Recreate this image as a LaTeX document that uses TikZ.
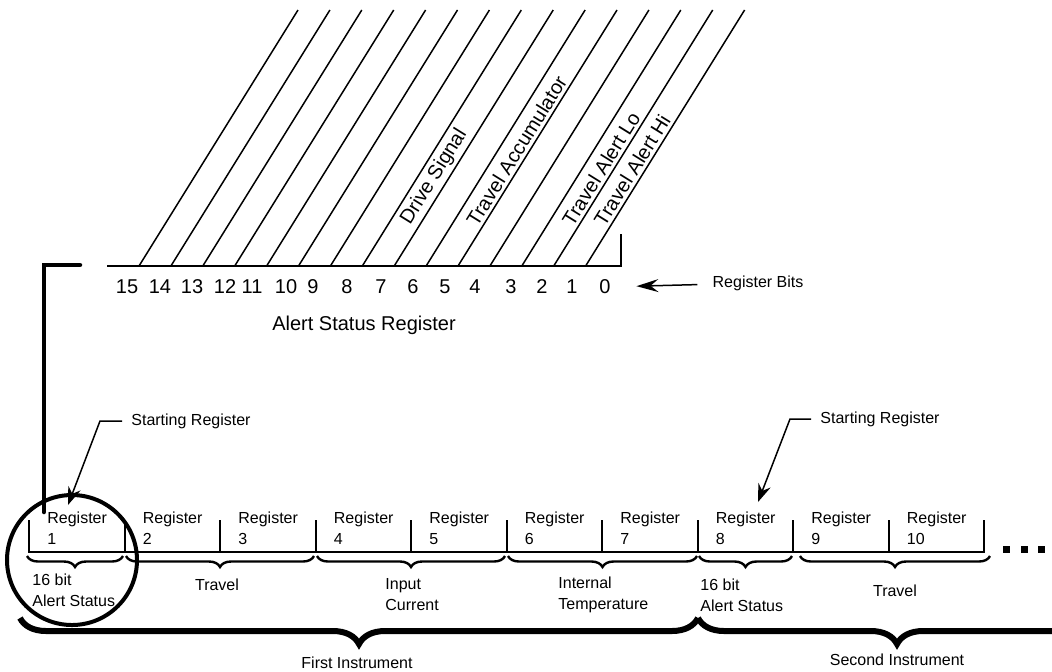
\documentclass[tikz,border=0pt]{standalone}
\usepackage{fontspec}
\setmainfont{Liberation Sans}
\usetikzlibrary{positioning, calc, arrows.meta, decorations.pathreplacing}

\begin{document}
\begin{tikzpicture}[x=0.5pt,y=-0.5pt]
	 \tikzstyle{stroke}=[draw,line width=0.75pt,black]
	 \tikzstyle{regline}=[draw,line width=1pt,black]
	 \tikzstyle{heavy}=[draw,line width=2.25pt,black,line cap=round]
	 \tikzstyle{bit}=[inner sep=1pt,font=\fontsize{10}{12}\selectfont]
	 \tikzstyle{lbl}=[sloped,anchor=south west,inner sep=1.5pt,font=\fontsize{10}{12}\selectfont]
	 \tikzstyle{small}=[inner sep=1pt,align=left,font=\fontsize{8}{10.5}\selectfont]
	 \tikzstyle{ptr}=[draw,line width=0.75pt,-{Stealth[length=9pt,width=6.5pt,inset=3pt]}]
	 \tikzstyle{bitptr}=[draw,line width=0.75pt,-{Stealth[length=11pt,width=6.5pt,inset=4pt]}]
	 \tikzstyle{smallbrace}=[draw,line width=1.2pt,decorate,decoration={brace,mirror,amplitude=5.5pt}]
	 \tikzstyle{bigbrace}=[draw,line width=3pt,decorate,decoration={brace,mirror,amplitude=13pt}]
	 \tikzstyle{ring}=[circle,draw,line width=2pt,minimum size=65pt,inner sep=0pt]
	 \tikzstyle{dot}=[rectangle,fill=black,minimum size=3.5pt,inner sep=0pt]
	 \clip (0,0) rectangle (1052,671);
	 \draw[stroke] (139,266) -- (298,10);
	 \draw[stroke] (170.9,266) -- (329.9,10);
	 \draw[stroke] (202.8,266) -- (361.8,10);
	 \draw[stroke] (234.7,266) -- (393.7,10);
	 \draw[stroke] (266.6,266) -- (425.6,10);
	 \draw[stroke] (298.5,266) -- (457.5,10);
	 \draw[stroke] (330.4,266) -- (489.4,10);
	 \draw[stroke] (362.3,266) -- (521.3,10);
	 \draw[stroke] (394.2,266) -- (553.2,10) node[lbl,pos=0.13] (ds) {Drive Signal};
	 \draw[stroke] (426.1,266) -- (585.1,10);
	 \draw[stroke] (458,266) -- (617,10) node[lbl,pos=0.13] (ta) {Travel Accumulator};
	 \draw[stroke] (489.9,266) -- (648.9,10);
	 \draw[stroke] (521.8,266) -- (680.8,10);
	 \draw[stroke] (553.7,266) -- (712.7,10) node[lbl,pos=0.13] (tlo) {Travel Alert Lo};
	 \draw[stroke] (585.6,266) -- (744.6,10) node[lbl,pos=0.13] (thi) {Travel Alert Hi};
	 \draw[regline] (107,266) -- (621,266) -- (621,234);
	 \node[bit] (b15) at (127,287) {15};
	 \node[bit] (b14) at (160,287) {14};
	 \node[bit] (b13) at (192,287) {13};
	 \node[bit] (b12) at (225,287) {12};
	 \node[bit] (b11) at (252,287) {11};
	 \node[bit] (b10) at (286,287) {10};
	 \node[bit] (b9) at (313,287) {9};
	 \node[bit] (b8) at (347,287) {8};
	 \node[bit] (b7) at (381,287) {7};
	 \node[bit] (b6) at (413,287) {6};
	 \node[bit] (b5) at (445,287) {5};
	 \node[bit] (b4) at (475,287) {4};
	 \node[bit] (b3) at (511,287) {3};
	 \node[bit] (b2) at (542,287) {2};
	 \node[bit] (b1) at (572,287) {1};
	 \node[bit] (b0) at (605,287) {0};
	 \node[bit] (asr) at (364,325) {Alert Status Register};
	 \node[small] (rb) at (758,283) {Register Bits};
	 \draw[bitptr,shorten <=6.5pt,shorten >=11.75pt] (rb) -- (b0);
	 \draw[heavy] (80,265) -- (44,265) -- (44,512);
	 \draw[regline] (29,520) -- (29,552) -- (984,552) -- (984,520);
	 \draw[regline] (124.5,520) -- (124.5,552);
	 \draw[regline] (220,520) -- (220,552);
	 \draw[regline] (315.5,520) -- (315.5,552);
	 \draw[regline] (411,520) -- (411,552);
	 \draw[regline] (506.5,520) -- (506.5,552);
	 \draw[regline] (602,520) -- (602,552);
	 \draw[regline] (697.5,520) -- (697.5,552);
	 \draw[regline] (793,520) -- (793,552);
	 \draw[regline] (888.5,520) -- (888.5,552);
	 \node[small,anchor=west] (r1) at (45,528.5) {Register\\1};
	 \node[small,anchor=west] (r2) at (140.5,528.5) {Register\\2};
	 \node[small,anchor=west] (r3) at (236,528.5) {Register\\3};
	 \node[small,anchor=west] (r4) at (331.5,528.5) {Register\\4};
	 \node[small,anchor=west] (r5) at (427,528.5) {Register\\5};
	 \node[small,anchor=west] (r6) at (522.5,528.5) {Register\\6};
	 \node[small,anchor=west] (r7) at (618,528.5) {Register\\7};
	 \node[small,anchor=west] (r8) at (713.5,528.5) {Register\\8};
	 \node[small,anchor=west] (r9) at (809,528.5) {Register\\9};
	 \node[small,anchor=west] (r10) at (904.5,528.5) {Register\\10};
	 \node[dot] (d1) at (1006.5,549.5) {};
	 \node[dot] (d2) at (1024.5,549.5) {};
	 \node[dot] (d3) at (1041.5,549.5) {};
	 \draw[smallbrace] (27,556) -- (123,556);
	 \draw[smallbrace] (126,556) -- (314,556);
	 \draw[smallbrace] (317,556) -- (505,556);
	 \draw[smallbrace] (508,556) -- (697,556);
	 \draw[smallbrace] (699,556) -- (792,556);
	 \draw[smallbrace] (800,556) -- (990,556);
	 \node[small,anchor=west] (as1) at (30,590) {16 bit\\Alert Status};
	 \node[small] (tr1) at (217,585) {Travel};
	 \node[small,anchor=west] (ic) at (383,595) {Input\\Current};
	 \node[small,anchor=west] (it) at (556,595) {Internal\\Temperature};
	 \node[small,anchor=west] (as2) at (698,595) {16 bit\\Alert Status};
	 \node[small] (tr2) at (895,591) {Travel};
	 \draw[bigbrace] (20,618) -- (698,618);
	 \draw[bigbrace] (698,618) -- (1096,618);
	 \node[small] (fi) at (357,663) {First Instrument};
	 \node[small] (si) at (897,660) {Second Instrument};
	 \node[ring] (hl) at (72,560) {};
	 \node[small,anchor=west] (sr1) at (129,421) {Starting Register};
	 \coordinate (k1) at (100,421);
	 \coordinate (p1) at (68,505);
	 \draw[ptr,shorten <=3.5pt] (sr1.west) -- (k1) -- (p1);
	 \node[small,anchor=west] (sr2) at (818,419) {Starting Register};
	 \coordinate (k2) at (790,419);
	 \coordinate (p2) at (758,502);
	 \draw[ptr,shorten <=3.5pt] (sr2.west) -- (k2) -- (p2);
 \end{tikzpicture}
\end{document}
